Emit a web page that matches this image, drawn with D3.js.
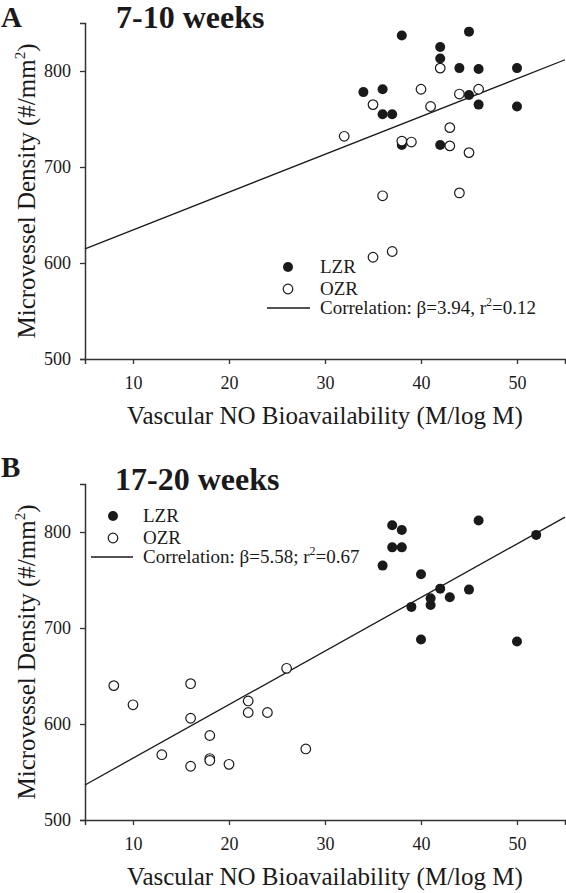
<!DOCTYPE html>
<html><head><meta charset="utf-8">
<script src="https://cdn.jsdelivr.net/npm/d3@7"></script>
<style>
html,body{margin:0;padding:0;background:#fff;}
svg{display:block;font-family:"Liberation Serif","Times New Roman",serif;}
</style></head>
<body><svg id="c" width="566" height="893"></svg>
<script>
// ---- data ----
const xTicks = [10, 20, 30, 40, 50];
const yTicks = [500, 600, 700, 800];
const xLabel = "Vascular NO Bioavailability (M/log M)";
const yLabel = "Microvessel Density (#/mm";

// Panel A: 7-10 weeks
const lzrA_x = [38, 45, 42, 42, 44, 46, 50, 34, 36, 36, 37, 45, 46, 50, 42, 38];
const lzrA_y = [837, 841, 825, 813, 803, 802, 803, 778, 781, 755, 755, 775, 765, 763, 723, 723];
const ozrA_x = [42, 40, 35, 41, 44, 46, 32, 38, 39, 43, 43, 45, 36, 44, 35, 37];
const ozrA_y = [803, 781, 765, 763, 776, 781, 732, 727, 726, 741, 722, 715, 670, 673, 606, 612];
const fitA = [595.0, 3.94];

// Panel B: 17-20 weeks
const lzrB_x = [37, 38, 37, 38, 36, 46, 52, 40, 42, 45, 41, 43, 41, 39, 40, 50];
const lzrB_y = [807, 802, 784, 784, 765, 812, 797, 756, 741, 740, 731, 732, 724, 722, 688, 686];
const ozrB_x = [8, 10, 16, 26, 22, 22, 24, 16, 18, 13, 18, 18, 16, 20, 28];
const ozrB_y = [640, 620, 642, 658, 624, 612, 612, 606, 588, 568, 564, 562, 556, 558, 574];
const fitB = [508.6, 5.58];

const svg = d3.select("#c");
const ink = "#1a1a1a";

function panel(o) {
  const x = d3.scaleLinear().domain([5, 55]).range([85, 565]);
  const y = d3.scaleLinear().domain([500, 850]).range([o.bottom, o.bottom - 336]);
  const g = svg.append("g");

  // axes
  const xa = g.append("g").attr("transform", `translate(0,${o.bottom})`)
    .call(d3.axisBottom(x).tickValues(xTicks).tickSizeOuter(0).tickSize(5).tickPadding(12));
  const ya = g.append("g").attr("transform", `translate(85,0)`)
    .call(d3.axisLeft(y).tickValues(yTicks).tickSizeOuter(0).tickSize(5).tickPadding(9));
  [xa, ya].forEach(a => {
    a.select(".domain").attr("stroke", "#333").attr("stroke-width", 1.5);
    a.selectAll(".tick line").attr("stroke", "#333").attr("stroke-width", 1.3);
    a.selectAll(".tick text").attr("font-family", "Liberation Serif").attr("font-size", 18).attr("fill", ink);
  });

  // regression line
  const clipX = [5, 55];
  g.append("line")
    .attr("x1", x(clipX[0])).attr("y1", y(o.fit[0] + o.fit[1] * clipX[0]))
    .attr("x2", x(clipX[1])).attr("y2", y(o.fit[0] + o.fit[1] * clipX[1]))
    .attr("stroke", ink).attr("stroke-width", 1.3);

  // points
  g.selectAll(".lzr").data(d3.range(o.lx.length)).join("circle")
    .attr("cx", i => x(o.lx[i])).attr("cy", i => y(o.ly[i])).attr("r", 5)
    .attr("fill", ink);
  g.selectAll(".ozr").data(d3.range(o.ox.length)).join("circle")
    .attr("cx", i => x(o.ox[i])).attr("cy", i => y(o.oy[i])).attr("r", 4.8)
    .attr("fill", "#fff").attr("stroke", ink).attr("stroke-width", 1.2);

  // titles
  svg.append("text").attr("x", 1).attr("y", o.letterY).attr("font-size", 29)
    .attr("font-weight", "bold").attr("fill", ink).text(o.letter);
  svg.append("text").attr("x", o.titleX).attr("y", o.titleY).attr("font-size", 32)
    .attr("font-weight", "bold").attr("fill", ink).text(o.title);

  // axis labels
  svg.append("text").attr("x", 325).attr("y", o.bottom + 65).attr("text-anchor", "middle")
    .attr("font-size", 25).attr("fill", ink).text(xLabel);
  const yl = svg.append("text")
    .attr("transform", `translate(35,${o.bottom - 168}) rotate(-90)`)
    .attr("text-anchor", "middle").attr("font-size", 25).attr("fill", ink);
  yl.append("tspan").text(yLabel);
  yl.append("tspan").attr("font-size", 15).attr("dy", -10).text("2");
  yl.append("tspan").attr("dy", 10).text(")");

  // legend
  const L = o.legend;
  svg.append("circle").attr("cx", L.cx).attr("cy", L.y0).attr("r", 5).attr("fill", ink);
  svg.append("circle").attr("cx", L.cx).attr("cy", L.y0 + 22).attr("r", 4.8)
    .attr("fill", "#fff").attr("stroke", ink).attr("stroke-width", 1.2);
  svg.append("line").attr("x1", L.lx1).attr("x2", L.lx2).attr("y1", L.y0 + 41).attr("y2", L.y0 + 41)
    .attr("stroke", ink).attr("stroke-width", 1.3);
  svg.append("text").attr("x", L.tx).attr("y", L.y0 + 6).attr("font-size", 19).attr("fill", ink).text("LZR");
  svg.append("text").attr("x", L.tx).attr("y", L.y0 + 28).attr("font-size", 19).attr("fill", ink).text("OZR");
  const ct = svg.append("text").attr("x", L.tx).attr("y", L.y0 + 47).attr("font-size", 19).attr("fill", ink);
  ct.append("tspan").text(L.corr1);
  ct.append("tspan").attr("font-size", 12).attr("dy", -8).text("2");
  ct.append("tspan").attr("dy", 8).text(L.corr2);
}

panel({
  bottom: 359, lx: lzrA_x, ly: lzrA_y, ox: ozrA_x, oy: ozrA_y, fit: fitA,
  letter: "A", letterY: 27, title: "7-10 weeks", titleX: 116, titleY: 28,
  legend: { cx: 288, y0: 267, lx1: 267, lx2: 310, tx: 320, corr1: "Correlation: β=3.94, r", corr2: "=0.12" }
});
panel({
  bottom: 820, lx: lzrB_x, ly: lzrB_y, ox: ozrB_x, oy: ozrB_y, fit: fitB,
  letter: "B", letterY: 477, title: "17-20 weeks", titleX: 115, titleY: 490,
  legend: { cx: 113, y0: 516, lx1: 91, lx2: 133, tx: 143, corr1: "Correlation: β=5.58; r", corr2: "=0.67" }
});
</script></body></html>
